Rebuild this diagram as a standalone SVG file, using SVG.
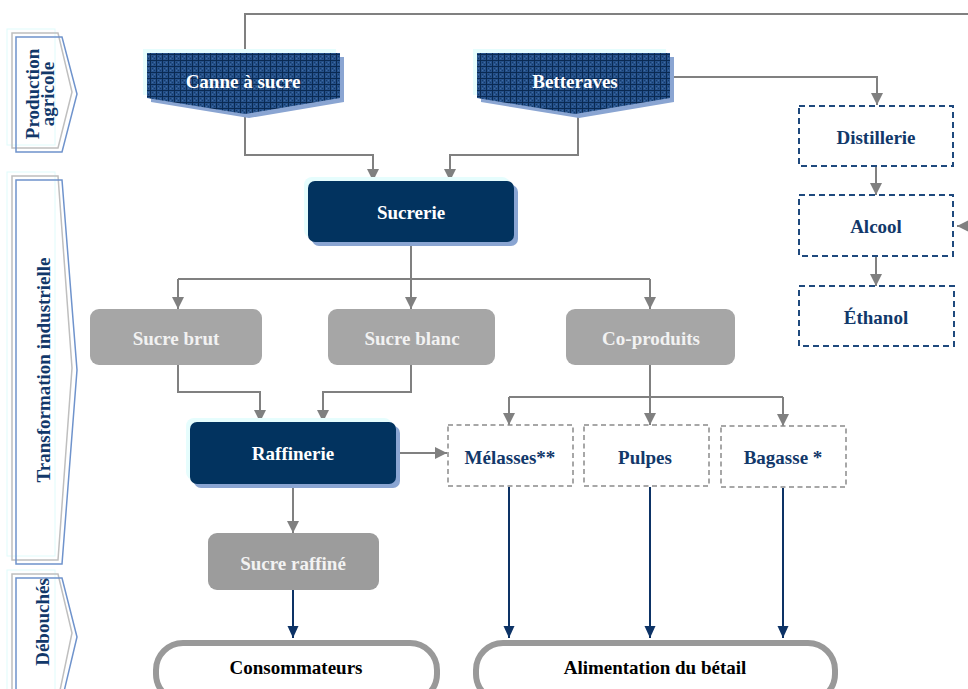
<svg xmlns="http://www.w3.org/2000/svg" width="968" height="689" viewBox="0 0 968 689">
  <defs>
    <style>
      .t { font-family: "Liberation Serif", "Times New Roman", serif; font-weight: bold; font-size: 19px; text-anchor: middle; dominant-baseline: central; }
      .white { fill: #ffffff; }
      .light { fill: #f2f2f2; }
      .navytxt { fill: #12386a; }
      .black { fill: #000000; }
      .navy { fill: #02335f; }
      .shadow { fill: #8aa5d2; }
      .glow { fill: #e6fdfd; }
      .grey { fill: #a6a6a6; }
      .dashnavy { fill: #ffffff; stroke: #1f497d; stroke-width: 2; stroke-dasharray: 6 4; }
      .dashgrey { fill: #ffffff; stroke: #8a8a8a; stroke-width: 1.5; stroke-dasharray: 5 3.5; }
      .pill { fill: #ffffff; stroke: #999999; stroke-width: 6; }
      .conn { fill: none; stroke: #808080; stroke-width: 2; }
      .connb { fill: none; stroke: #0d3366; stroke-width: 2; }
      .band-g { fill: none; stroke: #bfbfbf; stroke-width: 1.5; }
      .band-b { fill: none; stroke: #6f93cc; stroke-width: 1.5; }
      .band-c { fill: none; stroke: #e0fbfb; stroke-width: 1; }
    </style>
    <pattern id="hatch" width="6" height="6" patternUnits="userSpaceOnUse">
      <rect width="6" height="6" fill="#25518a"/>
      <path d="M0,0.5H6M0.5,0V6" stroke="#0a2a52" stroke-width="1"/>
      <rect x="2" y="2" width="1" height="1" fill="#143a6a"/>
      <rect x="4" y="4" width="1" height="1" fill="#143a6a"/>
      <rect x="4" y="2" width="1" height="1" fill="#3f6aa0"/>
      <rect x="2" y="4" width="1" height="1" fill="#3f6aa0"/>
    </pattern>
    <marker id="arr" markerUnits="userSpaceOnUse" markerWidth="12" markerHeight="12" refX="12" refY="6" orient="auto">
      <path d="M0,0 L12,6 L0,12 Z" fill="#808080"/>
    </marker>
    <marker id="arrb" markerUnits="userSpaceOnUse" markerWidth="12" markerHeight="12" refX="12" refY="6" orient="auto">
      <path d="M0,0.5 L12,6 L0,11.5 Z" fill="#0d3366"/>
    </marker>
  </defs>

  <!-- stage bands on the left -->
  <g id="band-production">
    <rect x="7" y="29" width="48" height="116" class="band-c"/>
    <path d="M12,33 H58 L72,92 L58,148 H12 Z" class="band-g"/>
    <path d="M16,37 H62 L77,94 L62,152 H16 Z" class="band-b"/>
    <g transform="translate(40,94) rotate(-90)">
      <text class="t navytxt" x="0" y="-8">Production</text>
      <text class="t navytxt" x="0" y="7">agricole</text>
    </g>
  </g>
  <g id="band-transformation">
    <rect x="7" y="172" width="48" height="384" class="band-c"/>
    <path d="M12,176 H58 L72,368 L58,560 H12 Z" class="band-g"/>
    <path d="M16,180 H62 L77,370 L62,564 H16 Z" class="band-b"/>
    <text class="t navytxt" transform="translate(43,370) rotate(-90)">Transformation industrielle</text>
  </g>
  <g id="band-debouches">
    <rect x="7" y="570" width="48" height="125" class="band-c"/>
    <path d="M12,574 H58 L72,633 L58,700 H12 Z" class="band-g"/>
    <path d="M16,578 H62 L77,637 L62,700 H16 Z" class="band-b"/>
    <text class="t navytxt" transform="translate(42,622) rotate(-90)">Débouchés</text>
  </g>

  <!-- connectors -->
  <g id="connectors">
    <path class="conn" d="M245,53 V14 H975 V226 H957" marker-end="url(#arr)"/>
    <path class="conn" d="M673,77 H877 V105" marker-end="url(#arr)"/>
    <path class="conn" d="M245,114 V155 H373 V181" marker-end="url(#arr)"/>
    <path class="conn" d="M578,114 V155 H450 V181" marker-end="url(#arr)"/>
    <path class="conn" d="M876,166 V195" marker-end="url(#arr)"/>
    <path class="conn" d="M876,256 V286" marker-end="url(#arr)"/>
    <path class="conn" d="M411,242 V309" marker-end="url(#arr)"/>
    <path class="conn" d="M178,279 H650"/>
    <path class="conn" d="M178,279 V309" marker-end="url(#arr)"/>
    <path class="conn" d="M650,279 V309" marker-end="url(#arr)"/>
    <path class="conn" d="M178,365 V392 H260 V422" marker-end="url(#arr)"/>
    <path class="conn" d="M411,365 V392 H323 V422" marker-end="url(#arr)"/>
    <path class="conn" d="M399,453 H447" marker-end="url(#arr)"/>
    <path class="conn" d="M293,484 V533" marker-end="url(#arr)"/>
    <path class="conn" d="M650,365 V425" marker-end="url(#arr)"/>
    <path class="conn" d="M509,397 H783"/>
    <path class="conn" d="M509,397 V425" marker-end="url(#arr)"/>
    <path class="conn" d="M783,397 V426" marker-end="url(#arr)"/>
    <path class="connb" d="M293,590 V638" marker-end="url(#arrb)"/>
    <path class="connb" d="M509,487 V638" marker-end="url(#arrb)"/>
    <path class="connb" d="M650,487 V638" marker-end="url(#arrb)"/>
    <path class="connb" d="M783,488 V638" marker-end="url(#arrb)"/>
  </g>

  <!-- agricultural sources -->
  <g id="canne">
    <rect x="143" y="49" width="193" height="46" class="glow"/>
    <path d="M151,57 H344 V102 L249,118 L151,102 Z" class="shadow"/>
    <path d="M147,53 H340 V98 L245,114 L147,98 Z" fill="url(#hatch)"/>
    <text class="t white" x="243" y="81">Canne à sucre</text>
  </g>
  <g id="betteraves">
    <rect x="473" y="49" width="193" height="46" class="glow"/>
    <path d="M481,57 H674 V102 L579,118 L481,102 Z" class="shadow"/>
    <path d="M477,53 H670 V98 L575,114 L477,98 Z" fill="url(#hatch)"/>
    <text class="t white" x="575" y="81">Betteraves</text>
  </g>

  <!-- industrial processing -->
  <g id="sucrerie">
    <rect x="304" y="177" width="206" height="61" rx="8" class="glow"/>
    <rect x="312" y="185" width="206" height="61" rx="7" class="shadow"/>
    <rect x="308" y="181" width="206" height="61" rx="7" class="navy"/>
    <text class="t white" x="411" y="212">Sucrerie</text>
  </g>
  <g id="sucre-brut">
    <rect x="90" y="309" width="172" height="56" rx="9" class="grey"/>
    <text class="t light" x="176" y="338">Sucre brut</text>
  </g>
  <g id="sucre-blanc">
    <rect x="328" y="309" width="167" height="56" rx="9" class="grey"/>
    <text class="t light" x="412" y="338">Sucre blanc</text>
  </g>
  <g id="co-produits">
    <rect x="566" y="309" width="169" height="56" rx="9" class="grey"/>
    <text class="t light" x="651" y="338">Co-produits</text>
  </g>
  <g id="raffinerie">
    <rect x="186" y="418" width="206" height="62" rx="8" class="glow"/>
    <rect x="194" y="426" width="206" height="62" rx="7" class="shadow"/>
    <rect x="190" y="422" width="206" height="62" rx="7" class="navy"/>
    <text class="t white" x="293" y="453">Raffinerie</text>
  </g>
  <g id="sucre-raffine">
    <rect x="208" y="533" width="171" height="57" rx="9" fill="#9c9c9c"/>
    <text class="t light" x="293" y="563">Sucre raffiné</text>
  </g>
  <g id="melasses">
    <rect x="448" y="425" width="125" height="61" class="dashgrey"/>
    <text class="t navytxt" x="510" y="457">Mélasses**</text>
  </g>
  <g id="pulpes">
    <rect x="584" y="425" width="125" height="61" class="dashgrey"/>
    <text class="t navytxt" x="645" y="457">Pulpes</text>
  </g>
  <g id="bagasse">
    <rect x="721" y="426" width="125" height="61" class="dashgrey"/>
    <text class="t navytxt" x="783" y="457">Bagasse *</text>
  </g>

  <!-- fuel branch -->
  <g id="distillerie">
    <rect x="799" y="106" width="154" height="60" class="dashnavy"/>
    <text class="t navytxt" x="876" y="137">Distillerie</text>
  </g>
  <g id="alcool">
    <rect x="799" y="195" width="154" height="61" class="dashnavy"/>
    <text class="t navytxt" x="876" y="226">Alcool</text>
  </g>
  <g id="ethanol">
    <rect x="799" y="286" width="155" height="60" class="dashnavy"/>
    <text class="t navytxt" x="876" y="317">Éthanol</text>
  </g>

  <!-- outlets -->
  <g id="consommateurs">
    <rect x="156" y="643" width="281" height="58" rx="27" class="pill"/>
    <text class="t black" x="296" y="667">Consommateurs</text>
  </g>
  <g id="alimentation">
    <rect x="476" y="643" width="359" height="58" rx="27" class="pill"/>
    <text class="t black" x="655" y="667">Alimentation du bétail</text>
  </g>
</svg>
